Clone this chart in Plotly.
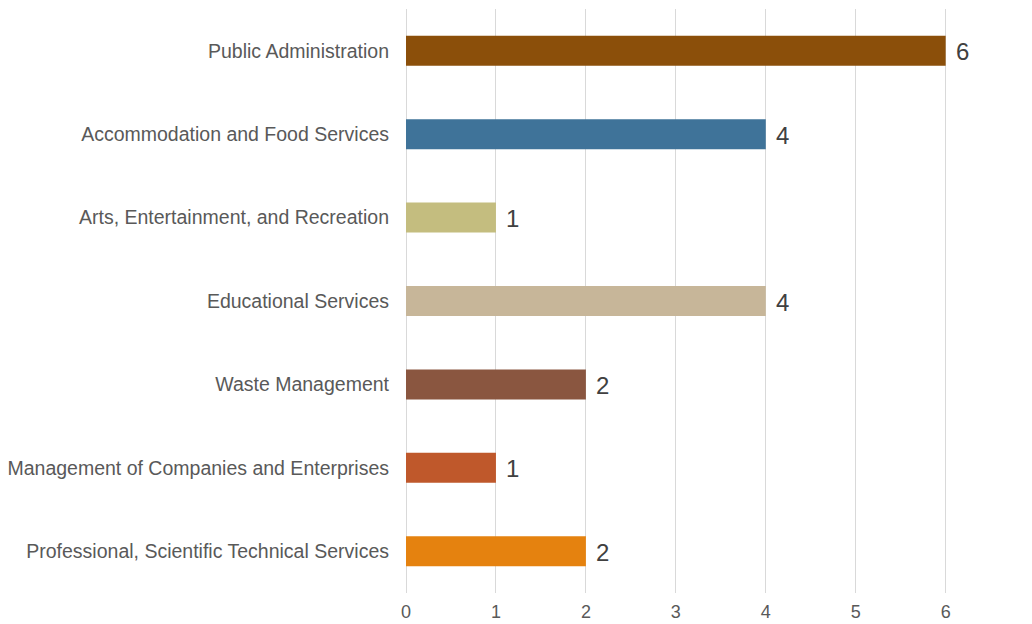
import plotly.graph_objects as go

categories = [
    "Professional, Scientific Technical Services",
    "Management of Companies and Enterprises",
    "Waste Management",
    "Educational Services",
    "Arts, Entertainment, and Recreation",
    "Accommodation and Food Services",
    "Public Administration",
]
values = [2, 1, 2, 4, 1, 4, 6]
colors = ["#E5820F", "#BF582B", "#8A5640", "#C7B699", "#C4BD7F", "#3F7399", "#8B4F0A"]
x_ticks = [0, 1, 2, 3, 4, 5, 6, 7]

FONT = "Liberation Sans, Arial, sans-serif"

fig = go.Figure(
    go.Bar(
        x=values,
        y=categories,
        orientation="h",
        marker=dict(color=colors, line=dict(width=0)),
        width=0.36,
        hoverinfo="x+y",
    )
)

for cat, v in zip(categories, values):
    fig.add_annotation(
        x=v, y=cat, text=str(v), showarrow=False,
        xanchor="left", xshift=8, yshift=-1,
        font=dict(size=24, color="#404040", family=FONT),
    )

fig.update_layout(
    width=1024,
    height=616,
    margin=dict(l=398, r=0, t=1, b=31, autoexpand=False),
    paper_bgcolor="white",
    plot_bgcolor="white",
    font=dict(family=FONT, color="#595959"),
    showlegend=False,
    xaxis=dict(
        range=[0, 6.96],
        tickvals=x_ticks,
        showgrid=True,
        gridcolor="#D9D9D9",
        gridwidth=1,
        zeroline=True,
        zerolinecolor="#D9D9D9",
        zerolinewidth=1,
        showline=False,
        tickfont=dict(size=18, color="#595959", family=FONT),
        ticklabelstandoff=6,
        ticks="",
        automargin=False,
    ),
    yaxis=dict(
        categoryorder="array",
        categoryarray=categories,
        range=[-0.5, 6.5],
        showgrid=False,
        showline=False,
        zeroline=False,
        tickfont=dict(size=19.5, color="#595959", family=FONT),
        ticklabelstandoff=16,
        ticks="",
        automargin=False,
    ),
)

fig.write_html("out.html")
